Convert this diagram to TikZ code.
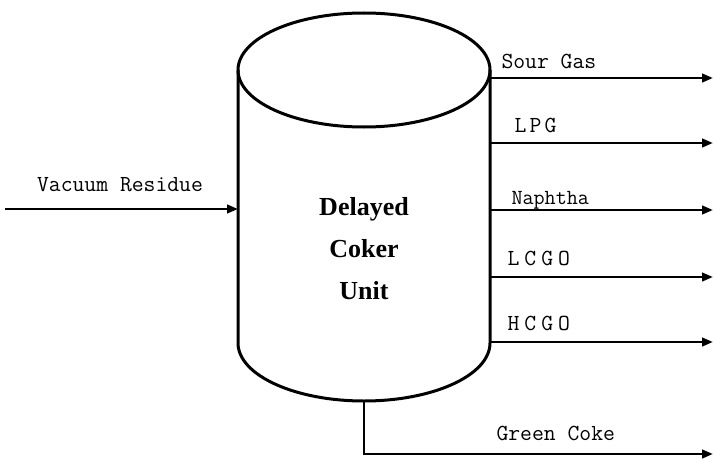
\documentclass[tikz,border=0pt]{standalone}
\usepackage{fontspec}
\setmainfont{Liberation Serif}
\newfontfamily\streamfont{Latin Modern Mono}
\usetikzlibrary{arrows.meta}

\begin{document}
\begin{tikzpicture}[x=1pt,y=1pt,line width=3pt,
    flow/.style={-{Triangle[length=11pt,width=8.5pt]},line width=2.6pt},
    stream/.style={font=\streamfont\fontsize{23}{25}\selectfont,inner sep=0pt,anchor=west},
    spaced/.style={stream,font=\streamfont\addfontfeature{LetterSpace=#1}\fontsize{23}{25}\selectfont}]
    \useasboundingbox (0,0) rectangle (715,459);

    % coker drum
    \draw (238,389) -- (238,116) arc[start angle=180,end angle=360,x radius=126pt,y radius=58pt] -- (490,389);
    \draw (364,389) ellipse [x radius=126pt,y radius=57pt];
    \node[font=\bfseries\fontsize{26}{42}\selectfont,align=center] (dcu) at (364,210) {Delayed\\Coker\\Unit};

    % feed
    \coordinate (feed) at (5,250);
    \coordinate (inlet) at (238,250);
    \draw[flow] (feed) -- (inlet);
    \node[stream,anchor=center] (vr) at (120,274) {Vacuum Residue};

    % overhead products
    \coordinate (sgin) at (490,381);
    \coordinate (sgout) at (713,381);
    \coordinate (lpgin) at (490,316);
    \coordinate (lpgout) at (713,316);
    \coordinate (naphin) at (490,249);
    \coordinate (naphout) at (713,249);
    \coordinate (lcgoin) at (490,182);
    \coordinate (lcgoout) at (713,182);
    \coordinate (hcgoin) at (490,117);
    \coordinate (hcgoout) at (713,117);

    \draw[flow] (sgin) -- (sgout);
    \draw[flow] (lpgin) -- (lpgout);
    \draw[flow] (naphin) -- (naphout);
    \draw[flow] (lcgoin) -- (lcgoout);
    \draw[flow] (hcgoin) -- (hcgoout);

    \node[stream] (sg) at (500,398) {Sour Gas};
    \node[spaced=14] (lpg) at (513,334) {LPG};
    \node[stream,font=\streamfont\fontsize{21.5}{24}\selectfont] (naph) at (510,259) {Naphtha};
    \node[spaced=22] (lcgo) at (506,201) {LCGO};
    \node[spaced=22] (hcgo) at (506,136) {HCGO};

    % coke drawn off the bottom
    \coordinate (drain) at (364,58);
    \coordinate (cokebend) at (364,5);
    \coordinate (cokeout) at (713,5);
    \draw[flow] (drain) -- (cokebend) -- (cokeout);
    \node[stream] (coke) at (495,26) {Green Coke};
\end{tikzpicture}
\end{document}
